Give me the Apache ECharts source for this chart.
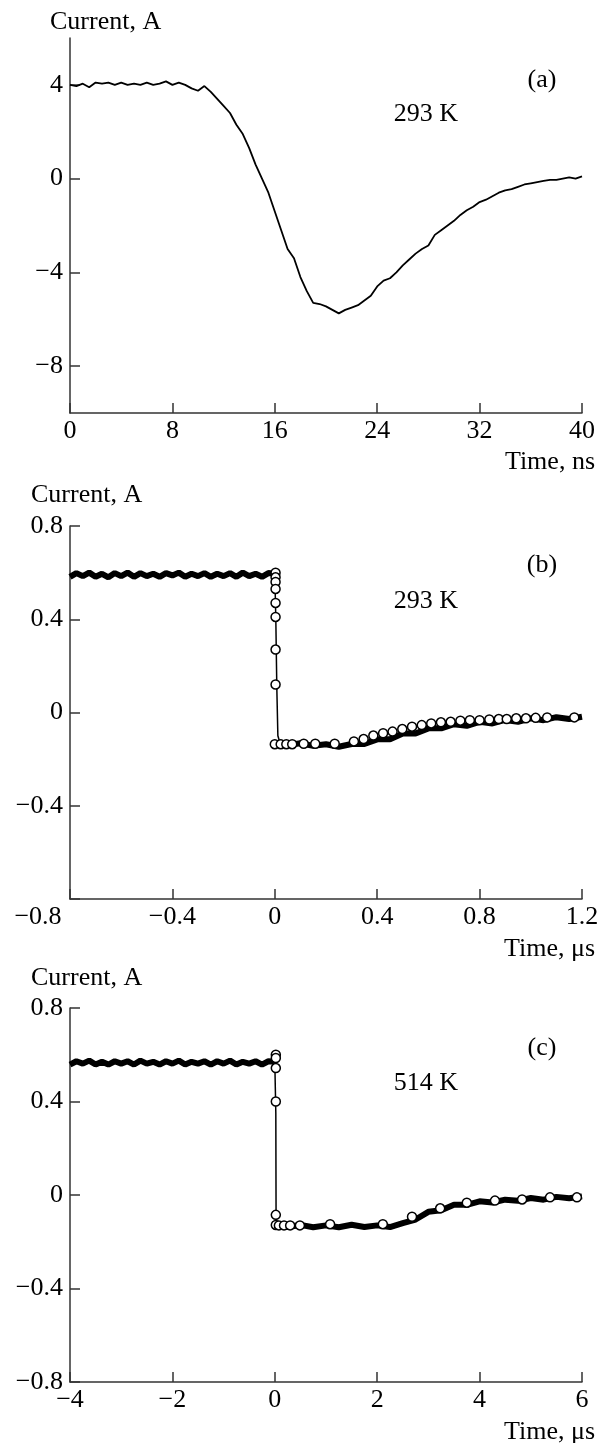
<!DOCTYPE html>
<html>
<head>
<meta charset="utf-8">
<script src="https://cdn.jsdelivr.net/npm/echarts@6/dist/echarts.min.js"></script>
<style>
  html, body { margin: 0; padding: 0; background: #fff; }
  #main { width: 606px; height: 1443px; }
</style>
</head>
<body>
<div id="main"></div>
<script>
// panel (a): current vs time, ns
let aTime = [0,0.5,1,1.5,2,2.5,3,3.5,4,4.5,5,5.5,6,6.5,7,7.5,8,8.5,9,9.5,10,10.5,11,11.5,12,12.5,13,13.5,14,14.5,15,15.5,16,16.5,17,17.5,18,18.5,19,19.5,20,20.5,21,21.5,22,22.5,23,23.5,24,24.5,25,25.5,26,26.5,27,27.5,28,28.5,29,29.5,30,30.5,31,31.5,32,32.5,33,33.5,34,34.5,35,35.5,36,36.5,37,37.5,38,38.5,39,39.5,40];
let aCurrent = [4.0,3.95,4.05,3.9,4.1,4.05,4.1,4.0,4.1,4.0,4.05,4.0,4.1,4.0,4.05,4.15,4.0,4.1,4.0,3.85,3.75,3.95,3.7,3.4,3.1,2.8,2.3,1.9,1.3,0.6,0.0,-0.6,-1.4,-2.2,-3.0,-3.4,-4.2,-4.8,-5.3,-5.35,-5.45,-5.6,-5.75,-5.6,-5.5,-5.4,-5.2,-5.0,-4.6,-4.35,-4.25,-4.0,-3.7,-3.45,-3.2,-3.0,-2.85,-2.4,-2.2,-2.0,-1.8,-1.55,-1.35,-1.2,-1.0,-0.9,-0.75,-0.6,-0.5,-0.45,-0.35,-0.25,-0.2,-0.15,-0.1,-0.05,-0.05,0.0,0.05,0.0,0.1];
let aTicksY = [-8,-4,0,4];

// panel (b): 293 K, time in us
let bPreT = [-0.8,-0.775,-0.75,-0.725,-0.7,-0.675,-0.65,-0.625,-0.6,-0.575,-0.55,-0.525,-0.5,-0.475,-0.45,-0.425,-0.4,-0.375,-0.35,-0.325,-0.3,-0.275,-0.25,-0.225,-0.2,-0.175,-0.15,-0.125,-0.1,-0.075,-0.05,-0.025,0];
let bPreV = [0.582,0.598,0.585,0.6,0.582,0.595,0.58,0.598,0.585,0.6,0.582,0.598,0.585,0.595,0.582,0.598,0.588,0.6,0.582,0.595,0.585,0.598,0.582,0.595,0.585,0.598,0.582,0.6,0.585,0.595,0.582,0.598,0.595];
let bDropT = [0,0.004,0.008,0.012,0.02];
let bDropV = [0.595,0.40,0.10,-0.10,-0.13];
let bPostT = [0.02,0.05,0.1,0.15,0.2,0.25,0.3,0.35,0.4,0.45,0.5,0.55,0.6,0.65,0.7,0.75,0.8,0.85,0.9,0.95,1.0,1.05,1.1,1.15,1.2];
let bPostV = [-0.128,-0.14,-0.132,-0.143,-0.136,-0.147,-0.135,-0.135,-0.115,-0.115,-0.09,-0.09,-0.068,-0.068,-0.05,-0.057,-0.04,-0.047,-0.032,-0.04,-0.025,-0.033,-0.02,-0.028,-0.018];
let bFitT = [0.003,0.003,0.003,0.003,0.003,0.003,0.003,0.003,0.0,0.023,0.045,0.068,0.113,0.158,0.234,0.309,0.347,0.385,0.423,0.46,0.498,0.536,0.574,0.611,0.649,0.687,0.725,0.762,0.8,0.838,0.875,0.906,0.943,0.981,1.019,1.064,1.17];
let bFitV = [0.60,0.58,0.56,0.53,0.47,0.41,0.27,0.12,-0.136,-0.136,-0.136,-0.136,-0.134,-0.134,-0.134,-0.124,-0.114,-0.099,-0.089,-0.082,-0.071,-0.061,-0.054,-0.047,-0.042,-0.040,-0.035,-0.033,-0.033,-0.030,-0.028,-0.028,-0.025,-0.025,-0.023,-0.021,-0.021];

// panel (c): 514 K, time in us
let cPreT = [-4,-3.875,-3.75,-3.625,-3.5,-3.375,-3.25,-3.125,-3,-2.875,-2.75,-2.625,-2.5,-2.375,-2.25,-2.125,-2,-1.875,-1.75,-1.625,-1.5,-1.375,-1.25,-1.125,-1,-0.875,-0.75,-0.625,-0.5,-0.375,-0.25,-0.125,0];
let cPreV = [0.558,0.572,0.562,0.575,0.558,0.57,0.558,0.572,0.562,0.572,0.558,0.575,0.562,0.57,0.558,0.572,0.562,0.575,0.558,0.57,0.562,0.572,0.558,0.572,0.562,0.575,0.558,0.57,0.562,0.572,0.558,0.572,0.57];
let cDropT = [0.0,0.02,0.025,0.04];
let cDropV = [0.57,0.35,-0.1,-0.13];
let cPostT = [0.04,0.25,0.5,0.75,1.0,1.25,1.5,1.75,2.0,2.25,2.5,2.75,3.0,3.25,3.5,3.75,4.0,4.25,4.5,4.75,5.0,5.25,5.5,5.75,6.0];
let cPostV = [-0.127,-0.137,-0.128,-0.138,-0.13,-0.138,-0.127,-0.137,-0.13,-0.137,-0.12,-0.105,-0.072,-0.065,-0.042,-0.042,-0.027,-0.032,-0.02,-0.025,-0.013,-0.02,-0.008,-0.014,-0.006];
let cFitT = [0.02,0.02,0.02,0.02,0.02,0.02,0.08,0.18,0.3,0.49,1.08,2.11,2.68,3.23,3.75,4.3,4.83,5.375,5.9];
let cFitV = [0.60,0.586,0.543,0.40,-0.085,-0.128,-0.13,-0.13,-0.13,-0.13,-0.125,-0.125,-0.093,-0.057,-0.033,-0.024,-0.019,-0.01,-0.01];

const FONT = '"Liberation Serif", "Times New Roman", serif';
const FS = 26;

function zip(ts, vs){
    return ts.map((t, i) => [t, vs[i]]);
}
function num(v){
    let s = String(parseFloat(Math.abs(v).toFixed(3)));
    return v < 0 ? '\u2212' + s : s;
}
function xAxis(grid, min, max, interval, fmt){
    return {
        type: 'value', gridIndex: grid, min: min, max: max, interval: interval,
        splitLine: { show: false },
        axisLine: { onZero: false, lineStyle: { color: '#333', width: 1.5 } },
        axisTick: { inside: true, length: 10, lineStyle: { color: '#333', width: 1.5 } },
        axisLabel: {
            margin: 5, color: '#000', fontFamily: FONT, fontSize: FS,
            formatter: fmt || num,
            // corner label of panel (b) is pushed left under the y labels
            rich: { L: { fontFamily: FONT, fontSize: FS, color: '#000', padding: [0, 64, 0, 0] } }
        }
    };
}
function yAxis(grid, min, max, interval, fmt, custom){
    let ax = {
        type: 'value', gridIndex: grid, min: min, max: max, interval: interval,
        splitLine: { show: false },
        axisLine: { onZero: false, lineStyle: { color: '#333', width: 1.5 } },
        axisTick: { inside: true, length: 10, lineStyle: { color: '#333', width: 1.5 } },
        axisLabel: { margin: 7, color: '#000', fontFamily: FONT, fontSize: FS, formatter: fmt || num }
    };
    if(custom){
        ax.axisTick.customValues = custom;
        ax.axisLabel.customValues = custom;
    }
    return ax;
}
function trace(x, y, data, width){
    return {
        type: 'line', xAxisIndex: x, yAxisIndex: y, data: data,
        showSymbol: false, symbol: 'none', silent: true,
        lineStyle: { color: '#000', width: width }
    };
}
function circles(x, y, data){
    return {
        type: 'scatter', xAxisIndex: x, yAxisIndex: y, data: data, z: 5,
        symbol: 'circle', symbolSize: 9,
        itemStyle: { color: '#fff', borderColor: '#000', borderWidth: 1.5, opacity: 1 }
    };
}
function label(text, x, y, align){
    return {
        type: 'text', x: x, y: y, silent: true,
        style: { text: text, font: FS + 'px ' + FONT, fill: '#000', align: align || 'left', verticalAlign: 'middle' }
    };
}

let myChart = echarts.init(document.getElementById('main'));
myChart.setOption({
    animation: false,
    backgroundColor: '#fff',
    grid: [
        { left: 70, top: 38, width: 512, height: 375 },
        { left: 70, top: 526, width: 512, height: 373 },
        { left: 70, top: 1008, width: 512, height: 374 }
    ],
    xAxis: [
        xAxis(0, 0, 40, 8),
        xAxis(1, -0.8, 1.2, 0.4, v => Math.abs(v + 0.8) < 1e-9 ? '{L|' + num(v) + '}' : num(v)),
        xAxis(2, -4, 6, 2)
    ],
    yAxis: [
        yAxis(0, -10, 6, null, null, aTicksY),
        yAxis(1, -0.8, 0.8, 0.4, v => Math.abs(v + 0.8) < 1e-9 ? '' : num(v)),
        yAxis(2, -0.8, 0.8, 0.4)
    ],
    graphic: [
        label('Current, A', 50, 22),
        label('(a)', 542, 80, 'center'),
        label('293 K', 426, 114, 'center'),
        label('Time, ns', 595, 462, 'right'),
        label('Current, A', 31, 495),
        label('(b)', 542, 565, 'center'),
        label('293 K', 426, 601, 'center'),
        label('Time, \u03bcs', 595, 949, 'right'),
        label('Current, A', 31, 978),
        label('(c)', 542, 1048, 'center'),
        label('514 K', 426, 1083, 'center'),
        label('Time, \u03bcs', 595, 1432, 'right')
    ],
    series: [
        trace(0, 0, zip(aTime, aCurrent), 1.8),
        trace(1, 1, zip(bPreT, bPreV), 6),
        trace(1, 1, zip(bDropT, bDropV), 1.5),
        trace(1, 1, zip(bPostT, bPostV), 6),
        circles(1, 1, zip(bFitT, bFitV)),
        trace(2, 2, zip(cPreT, cPreV), 6),
        trace(2, 2, zip(cDropT, cDropV), 1.5),
        trace(2, 2, zip(cPostT, cPostV), 6),
        circles(2, 2, zip(cFitT, cFitV))
    ]
});
</script>
</body>
</html>
